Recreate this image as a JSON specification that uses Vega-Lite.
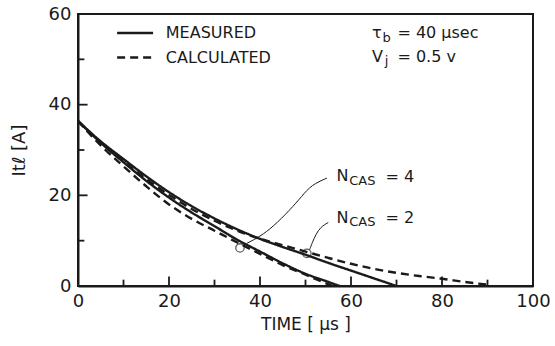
{
  "$schema": "https://vega.github.io/schema/vega-lite/v6.json",
  "width": 455,
  "height": 272,
  "autosize": {"type": "none"},
  "padding": {"left": 78, "top": 14, "right": 22, "bottom": 60},
  "background": "white",
  "config": {
    "font": "DejaVu Sans",
    "view": {"stroke": "#1a1a1a", "strokeWidth": 2},
    "axis": {"domainColor": "#1a1a1a", "domainWidth": 2, "labelColor": "#1a1a1a", "titleColor": "#1a1a1a", "grid": false, "labelFont": "DejaVu Sans", "titleFont": "DejaVu Sans", "titleFontWeight": "normal"}
  },
  "datasets": {
    "curves": [
      {"curve": "N4 measured", "type": "measured", "t": 0, "I": 36.4},
      {"curve": "N4 measured", "type": "measured", "t": 5, "I": 31.6},
      {"curve": "N4 measured", "type": "measured", "t": 10, "I": 27.3},
      {"curve": "N4 measured", "type": "measured", "t": 15, "I": 23.2},
      {"curve": "N4 measured", "type": "measured", "t": 20, "I": 19.5},
      {"curve": "N4 measured", "type": "measured", "t": 25, "I": 16.2},
      {"curve": "N4 measured", "type": "measured", "t": 30, "I": 13.2},
      {"curve": "N4 measured", "type": "measured", "t": 35, "I": 10.2},
      {"curve": "N4 measured", "type": "measured", "t": 40, "I": 7.6},
      {"curve": "N4 measured", "type": "measured", "t": 45, "I": 5.0},
      {"curve": "N4 measured", "type": "measured", "t": 50, "I": 2.7},
      {"curve": "N4 measured", "type": "measured", "t": 55, "I": 0.9},
      {"curve": "N4 measured", "type": "measured", "t": 57.5, "I": 0},
      {"curve": "N4 calculated", "type": "calculated", "t": 0, "I": 36.4},
      {"curve": "N4 calculated", "type": "calculated", "t": 5, "I": 31.0},
      {"curve": "N4 calculated", "type": "calculated", "t": 10, "I": 26.4},
      {"curve": "N4 calculated", "type": "calculated", "t": 15, "I": 22.0},
      {"curve": "N4 calculated", "type": "calculated", "t": 20, "I": 18.0},
      {"curve": "N4 calculated", "type": "calculated", "t": 25, "I": 14.8},
      {"curve": "N4 calculated", "type": "calculated", "t": 30, "I": 12.2},
      {"curve": "N4 calculated", "type": "calculated", "t": 35, "I": 9.6},
      {"curve": "N4 calculated", "type": "calculated", "t": 40, "I": 7.1},
      {"curve": "N4 calculated", "type": "calculated", "t": 45, "I": 4.6},
      {"curve": "N4 calculated", "type": "calculated", "t": 50, "I": 2.5},
      {"curve": "N4 calculated", "type": "calculated", "t": 54, "I": 0.8},
      {"curve": "N4 calculated", "type": "calculated", "t": 56, "I": 0},
      {"curve": "N2 measured", "type": "measured", "t": 0, "I": 36.4},
      {"curve": "N2 measured", "type": "measured", "t": 5, "I": 31.9},
      {"curve": "N2 measured", "type": "measured", "t": 10, "I": 28.0},
      {"curve": "N2 measured", "type": "measured", "t": 15, "I": 24.2},
      {"curve": "N2 measured", "type": "measured", "t": 20, "I": 20.7},
      {"curve": "N2 measured", "type": "measured", "t": 25, "I": 17.6},
      {"curve": "N2 measured", "type": "measured", "t": 30, "I": 14.9},
      {"curve": "N2 measured", "type": "measured", "t": 35, "I": 12.5},
      {"curve": "N2 measured", "type": "measured", "t": 40, "I": 10.4},
      {"curve": "N2 measured", "type": "measured", "t": 45, "I": 8.6},
      {"curve": "N2 measured", "type": "measured", "t": 50, "I": 6.9},
      {"curve": "N2 measured", "type": "measured", "t": 55, "I": 5.1},
      {"curve": "N2 measured", "type": "measured", "t": 60, "I": 3.4},
      {"curve": "N2 measured", "type": "measured", "t": 65, "I": 1.7},
      {"curve": "N2 measured", "type": "measured", "t": 70, "I": 0},
      {"curve": "N2 calculated", "type": "calculated", "t": 0, "I": 36.4},
      {"curve": "N2 calculated", "type": "calculated", "t": 5, "I": 31.6},
      {"curve": "N2 calculated", "type": "calculated", "t": 10, "I": 27.5},
      {"curve": "N2 calculated", "type": "calculated", "t": 15, "I": 23.6},
      {"curve": "N2 calculated", "type": "calculated", "t": 20, "I": 20.1},
      {"curve": "N2 calculated", "type": "calculated", "t": 25, "I": 17.0},
      {"curve": "N2 calculated", "type": "calculated", "t": 30, "I": 14.4},
      {"curve": "N2 calculated", "type": "calculated", "t": 35, "I": 12.2},
      {"curve": "N2 calculated", "type": "calculated", "t": 40, "I": 10.4},
      {"curve": "N2 calculated", "type": "calculated", "t": 45, "I": 9.0},
      {"curve": "N2 calculated", "type": "calculated", "t": 50, "I": 7.6},
      {"curve": "N2 calculated", "type": "calculated", "t": 55, "I": 6.2},
      {"curve": "N2 calculated", "type": "calculated", "t": 60, "I": 4.9},
      {"curve": "N2 calculated", "type": "calculated", "t": 65, "I": 3.8},
      {"curve": "N2 calculated", "type": "calculated", "t": 70, "I": 2.9},
      {"curve": "N2 calculated", "type": "calculated", "t": 75, "I": 2.2},
      {"curve": "N2 calculated", "type": "calculated", "t": 80, "I": 1.6},
      {"curve": "N2 calculated", "type": "calculated", "t": 85, "I": 0.9},
      {"curve": "N2 calculated", "type": "calculated", "t": 90, "I": 0.3},
      {"curve": "legend measured", "type": "measured", "t": 8.6, "I": 55.8},
      {"curve": "legend measured", "type": "measured", "t": 16.5, "I": 55.8},
      {"curve": "legend calculated", "type": "calculated", "t": 8.6, "I": 50.4},
      {"curve": "legend calculated", "type": "calculated", "t": 16.5, "I": 50.4}
    ],
    "leaders": [
      {"lead": "N4", "k": 1, "t": 37.1, "I": 9.4},
      {"lead": "N4", "k": 2, "t": 40.0, "I": 10.9},
      {"lead": "N4", "k": 3, "t": 42.9, "I": 13.1},
      {"lead": "N4", "k": 4, "t": 46.6, "I": 16.8},
      {"lead": "N4", "k": 5, "t": 49.2, "I": 19.8},
      {"lead": "N4", "k": 6, "t": 51.3, "I": 22.3},
      {"lead": "N4", "k": 7, "t": 54.7, "I": 23.8},
      {"lead": "N2", "k": 1, "t": 50.9, "I": 8.0},
      {"lead": "N2", "k": 2, "t": 51.5, "I": 9.6},
      {"lead": "N2", "k": 3, "t": 52.3, "I": 11.4},
      {"lead": "N2", "k": 4, "t": 53.3, "I": 13.0},
      {"lead": "N2", "k": 5, "t": 55.0, "I": 14.0}
    ],
    "markers": [
      {"t": 35.6, "I": 8.4},
      {"t": 50.3, "I": 7.2}
    ],
    "xticks": [
      {"t": 10, "lo": 0, "hi": 1.4}, {"t": 20, "lo": 0, "hi": 2.1}, {"t": 30, "lo": 0, "hi": 1.4}, {"t": 40, "lo": 0, "hi": 2.1},
      {"t": 50, "lo": 0, "hi": 1.4}, {"t": 60, "lo": 0, "hi": 2.1}, {"t": 70, "lo": 0, "hi": 1.4}, {"t": 80, "lo": 0, "hi": 2.1}, {"t": 90, "lo": 0, "hi": 1.4}
    ],
    "yticks": [
      {"I": 10, "lo": 0, "hi": 1.4}, {"I": 20, "lo": 0, "hi": 2.1}, {"I": 30, "lo": 0, "hi": 1.4}, {"I": 40, "lo": 0, "hi": 2.1}, {"I": 50, "lo": 0, "hi": 1.4}
    ],
    "labels": [
      {"text": "MEASURED", "t": 19.3, "I": 55.8, "fs": "big"},
      {"text": "CALCULATED", "t": 19.3, "I": 50.4, "fs": "big"},
      {"text": "τ", "t": 64.6, "I": 55.8, "fs": "big"},
      {"text": "b", "t": 66.9, "I": 54.7, "fs": "sub"},
      {"text": "= 40 μsec", "t": 70.2, "I": 55.8, "fs": "big"},
      {"text": "V", "t": 64.6, "I": 50.6, "fs": "big"},
      {"text": "j", "t": 67.4, "I": 49.6, "fs": "sub"},
      {"text": "= 0.5 v", "t": 70.2, "I": 50.6, "fs": "big"},
      {"text": "N", "t": 56.8, "I": 24.2, "fs": "big"},
      {"text": "CAS", "t": 59.6, "I": 23.2, "fs": "sub"},
      {"text": "= 4", "t": 67.6, "I": 24.0, "fs": "big"},
      {"text": "N", "t": 56.8, "I": 15.1, "fs": "big"},
      {"text": "CAS", "t": 59.6, "I": 14.1, "fs": "sub"},
      {"text": "= 2", "t": 67.6, "I": 14.9, "fs": "big"}
    ]
  },
  "layer": [
    {
      "data": {"name": "curves"},
      "mark": {"type": "line", "strokeWidth": 2.4, "color": "#1a1a1a", "interpolate": "monotone"},
      "encoding": {
        "x": {"field": "t", "type": "quantitative", "scale": {"domain": [0, 100], "nice": false},
          "axis": {"title": "TIME [ μs ]", "values": [0, 20, 40, 60, 80, 100], "ticks": false, "labelPadding": 6, "labelFontSize": 18, "titleFontSize": 17, "titlePadding": 6, "labelFlush": false}},
        "y": {"field": "I", "type": "quantitative", "scale": {"domain": [0, 60], "nice": false},
          "axis": {"title": "Itℓ [A]", "values": [0, 20, 40, 60], "ticks": false, "labelPadding": 7, "labelFontSize": 18, "titleFontSize": 18, "titlePadding": 20, "labelFlush": false}},
        "detail": {"field": "curve"},
        "strokeDash": {"field": "type", "type": "nominal", "scale": {"domain": ["measured", "calculated"], "range": [[1, 0], [8, 5]]}, "legend": null}
      }
    },
    {
      "data": {"name": "xticks"},
      "mark": {"type": "rule", "strokeWidth": 1.8, "color": "#1a1a1a"},
      "encoding": {
        "x": {"field": "t", "type": "quantitative"},
        "y": {"field": "lo", "type": "quantitative"},
        "y2": {"field": "hi"}
      }
    },
    {
      "data": {"name": "yticks"},
      "mark": {"type": "rule", "strokeWidth": 1.8, "color": "#1a1a1a"},
      "encoding": {
        "y": {"field": "I", "type": "quantitative"},
        "x": {"field": "lo", "type": "quantitative"},
        "x2": {"field": "hi"}
      }
    },
    {
      "data": {"name": "leaders"},
      "mark": {"type": "line", "strokeWidth": 1, "color": "#1a1a1a", "interpolate": "basis"},
      "encoding": {
        "x": {"field": "t", "type": "quantitative"},
        "y": {"field": "I", "type": "quantitative"},
        "detail": {"field": "lead"},
        "order": {"field": "k"}
      }
    },
    {
      "data": {"name": "markers"},
      "mark": {"type": "point", "shape": "circle", "size": 70, "filled": false, "strokeWidth": 1.3, "color": "#1a1a1a"},
      "encoding": {
        "x": {"field": "t", "type": "quantitative"},
        "y": {"field": "I", "type": "quantitative"}
      }
    },
    {
      "data": {"name": "labels"},
      "mark": {"type": "text", "align": "left", "baseline": "middle", "color": "#1a1a1a"},
      "encoding": {
        "x": {"field": "t", "type": "quantitative"},
        "y": {"field": "I", "type": "quantitative"},
        "text": {"field": "text"},
        "size": {"field": "fs", "type": "nominal", "scale": {"domain": ["big", "sub"], "range": [16, 13]}, "legend": null}
      }
    }
  ]
}
